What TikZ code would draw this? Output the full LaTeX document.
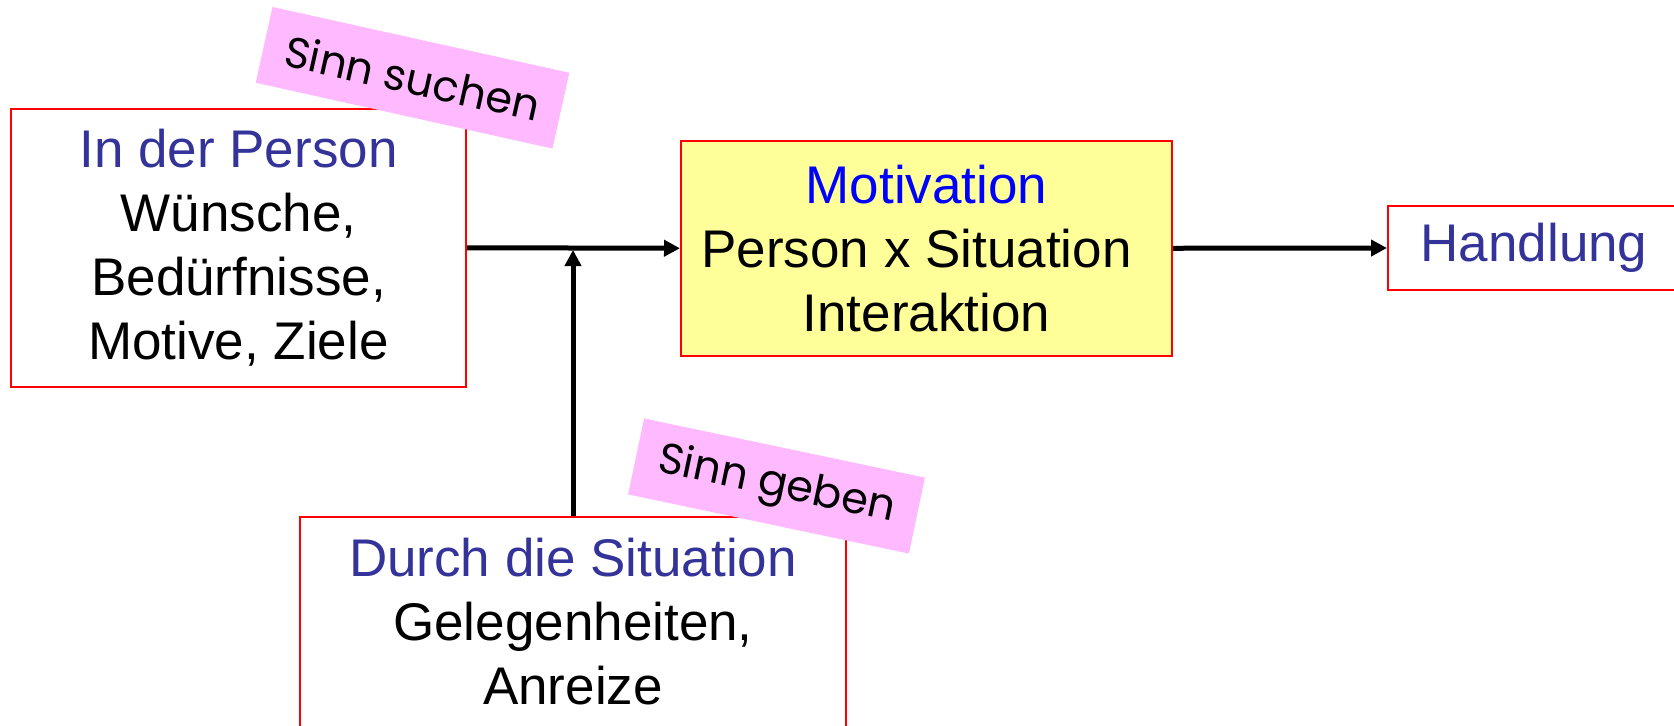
\documentclass[tikz,border=0pt]{standalone}
\usepackage{fontspec}
\setmainfont{Liberation Sans}
\newfontfamily\notefont{Poppins}
\usetikzlibrary{arrows.meta}
\definecolor{redline}{RGB}{255,0,0}
\definecolor{darkblue}{RGB}{51,51,153}
\definecolor{motblue}{RGB}{0,0,255}
\definecolor{lightyellow}{RGB}{255,255,153}
\definecolor{notepink}{RGB}{255,185,255}
\begin{document}
\begin{tikzpicture}[x=0.5pt,y=-0.5pt,
  box/.style={draw=redline,line width=1pt,align=center,inner sep=0pt,font=\fontsize{26.5}{32}\selectfont},
  note/.style={fill=notepink,inner sep=0pt,minimum height=38.8pt,font=\notefont\fontsize{21.5}{24}\selectfont},
  arr/.style={line width=2.5pt,-{Triangle[length=8pt,width=8pt]}}]
\useasboundingbox (0,0) rectangle (1674,725);
\node [box,minimum width=227.5pt,minimum height=138.75pt] (person) at (238.5,247.75)
  {\textcolor{darkblue}{In der Person}\\Wünsche,\\Bedürfnisse,\\Motive, Ziele};
\node [box,fill=lightyellow,minimum width=245.5pt,minimum height=107.25pt] (motivation) at (926.5,248.25)
  {\textcolor{motblue}{Motivation}\\Person x Situation\rule{10pt}{0pt}\\Interaktion};
\node [box,minimum width=146pt,minimum height=42pt] (handlung) at (1534,248)
  {\textcolor{darkblue}{Handlung}};
\node [box,minimum width=273.25pt,minimum height=105pt] (situation) at (573,622)
  {\textcolor{darkblue}{Durch die Situation}\\Gelegenheiten,\\Anreize};
\coordinate (join) at (573,250);
\draw [arr] (person.east) -- (motivation.west);
\draw [arr] (motivation.east) -- (handlung.west);
\draw [arr] (situation.north) -- (join);
\node [note,rotate=-12.5,minimum width=152pt] (search) at (412.5,77.75) {Sinn suchen};
\node [note,rotate=-11.9,minimum width=143.5pt] (give) at (776.5,486) {Sinn geben};
\end{tikzpicture}
\end{document}
